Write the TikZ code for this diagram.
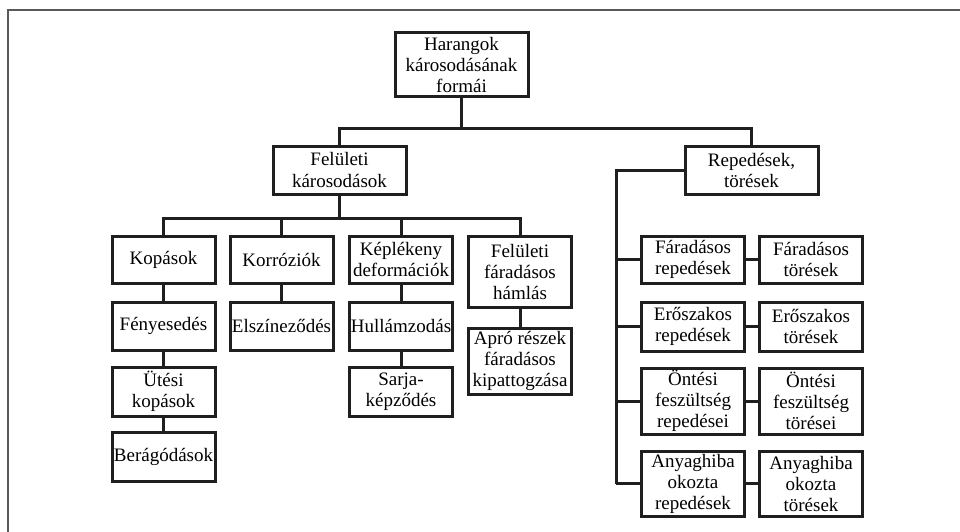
\documentclass[tikz,border=0pt]{standalone}
\usepackage{fontspec}
\setmainfont{Liberation Serif}
\usepackage{tikz}

\begin{document}
\begin{tikzpicture}[x=1pt,y=-1pt,
    doboz/.style={draw=black!88,line width=3pt,align=center,inner sep=0pt,
      minimum width=103pt,font=\fontsize{19}{21}\selectfont},
    vonal/.style={draw=black!88,line width=3pt}]
  \useasboundingbox (0,0) rectangle (960,532);
  \draw[black!65,line width=1.5pt] (8,532) -- (8,10) -- (960,10);

  % top levels
  \node[doboz,minimum width=133pt,minimum height=64pt] (harang) at (461.5,65) {Harangok\\károsodásának\\formái};
  \node[doboz,minimum width=133pt,minimum height=48pt] (felulet) at (339.5,170) {Felületi\\károsodások};
  \node[doboz,minimum width=133pt,minimum height=48pt] (reped) at (751.5,170) {Repedések,\\törések};
  \draw[vonal] (harang.south) -- ++(0,30) -| (felulet.north);
  \draw[vonal] (harang.south) -- ++(0,30) -| (reped.north);

  % felületi károsodások
  \node[doboz,minimum height=47pt] (kopas) at (163.5,259.5) {Kopások};
  \node[doboz,minimum height=47pt] (korr) at (281.5,259.5) {Korróziók};
  \node[doboz,minimum height=47pt] (keplek) at (401,259.5) {Képlékeny\\deformációk};
  \node[doboz,minimum height=71pt] (hamlas) at (520,271.5) {Felületi\\fáradásos\\hámlás};
  \foreach \n in {kopas,korr,keplek,hamlas}
    \draw[vonal] (felulet.south) -- ++(0,23) -| (\n.north);

  \node[doboz,minimum height=48pt] (fenyes) at (163.5,326) {Fényesedés};
  \node[doboz,minimum height=49pt] (utesi) at (163.5,391.5) {Ütési\\kopások};
  \node[doboz,minimum height=49pt] (berag) at (163.5,456.5) {Berágódások};
  \node[doboz,minimum height=48pt] (elszin) at (281.5,326) {Elszíneződés};
  \node[doboz,minimum height=48pt] (hullam) at (401,326) {Hullámzodás};
  \node[doboz,minimum height=49pt] (sarja) at (401,391.5) {Sarja-\\képződés};
  \node[doboz,minimum height=66pt] (apro) at (520,361) {Apró részek\\fáradásos\\kipattogzása};
  \draw[vonal] (kopas) -- (fenyes) -- (utesi) -- (berag);
  \draw[vonal] (korr) -- (elszin);
  \draw[vonal] (keplek) -- (hullam) -- (sarja);
  \draw[vonal] (hamlas) -- (apro);

  % repedések, törések
  \coordinate (gerinc) at (616,170);
  \node[doboz,minimum height=47pt] (farR) at (693,259.5) {Fáradásos\\repedések};
  \node[doboz,minimum height=47pt] (farT) at (811,259.5) {Fáradásos\\törések};
  \node[doboz,minimum height=49pt] (eroR) at (693,326.5) {Erőszakos\\repedések};
  \node[doboz,minimum height=49pt] (eroT) at (811,326.5) {Erőszakos\\törések};
  \node[doboz,minimum height=66pt] (ontR) at (693,401) {Öntési\\feszültség\\repedései};
  \node[doboz,minimum height=66pt] (ontT) at (811,401) {Öntési\\feszültség\\törései};
  \node[doboz,minimum height=65pt] (anyR) at (693,483.5) {Anyaghiba\\okozta\\repedések};
  \node[doboz,minimum height=65pt] (anyT) at (811,483.5) {Anyaghiba\\okozta\\törések};
  \draw[vonal] (reped.west) -- (gerinc) -- (gerinc |- anyR.west);
  \foreach \r/\t in {farR/farT,eroR/eroT,ontR/ontT,anyR/anyT}{
    \draw[vonal] (gerinc |- \r.west) -- (\r.west);
    \draw[vonal] (\r.east) -- (\t.west);
  }
\end{tikzpicture}
\end{document}
